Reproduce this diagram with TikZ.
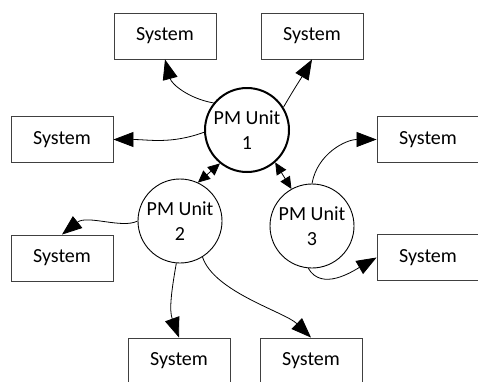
\documentclass[tikz,border=0pt]{standalone}
\usepackage{fontspec}
\setmainfont{Carlito}
\usetikzlibrary{arrows.meta}
\begin{document}
\begin{tikzpicture}[x=1pt,y=-1pt,
  sysbox/.style={draw=black!75, line width=0.9pt, minimum width=102pt, minimum height=46pt, inner sep=0pt, font=\fontsize{20}{25}\selectfont},
  unit/.style={circle, draw, minimum size=84pt, inner sep=0pt, align=center, font=\fontsize{20}{25}\selectfont},
  link/.style={line width=0.8pt, -{Triangle[length=20pt,width=15pt]}},
  dlink/.style={line width=0.8pt, {Triangle[length=12pt,width=11pt]}-{Triangle[length=12pt,width=11pt]}}]
\useasboundingbox (0,0) rectangle (478,381);
\clip (0,0) rectangle (478,381);
% units
\node[unit, line width=2pt] (u1) at (247,130) {PM Unit\\1};
\node[unit, line width=0.9pt] (u2) at (180,221) {PM Unit\\2};
\node[unit, line width=0.9pt] (u3) at (312,226) {PM Unit\\3};
% systems
\node[sysbox] (tl) at (165,36) {System};
\node[sysbox] (tr) at (312,36) {System};
\node[sysbox] (l) at (62,139.5) {System};
\node[sysbox] (rt) at (428,139.5) {System};
\node[sysbox] (rb) at (428,257.5) {System};
\node[sysbox] (lb) at (62,258) {System};
\node[sysbox] (bl) at (179,361) {System};
\node[sysbox] (br) at (311,361) {System};
% connectors from unit 1
\draw[link] (u1.141) to[out=170,in=-75] (tl.south);
\draw[link] (u1.32) to[out=60,in=-120] (tr.south);
\draw[link] (u1.183) to[out=200,in=0] (l.east);
% unit to unit
\draw[dlink] (u1.231) -- (u2.65);
\draw[dlink] (u1.-49) -- (u3.119);
% unit 2
\draw[link] (u2.west) .. controls +(-15,8) and +(25,-20) .. (lb.north);
\draw[link] (u2.-95) to[out=-100,in=110] (bl.north);
\draw[link] (u2.-58) .. controls (214,292) and (285,312) .. (br.north);
% unit 3
\draw[link] (u3.north) to[out=80,in=180] (rt.west);
\draw[link] (u3.-95) to[out=-60,in=210] (rb.west);
\end{tikzpicture}
\end{document}
